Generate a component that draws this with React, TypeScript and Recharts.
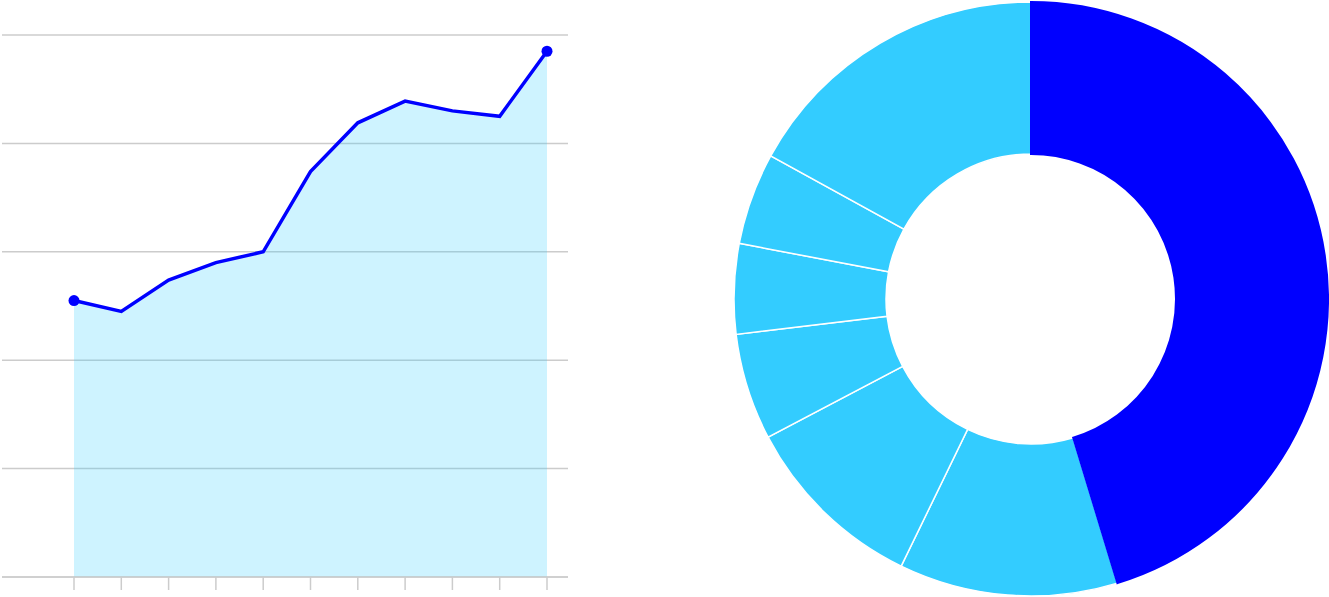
import {
  AreaChart,
  Area,
  XAxis,
  YAxis,
  CartesianGrid,
  PieChart,
  Pie,
  Cell,
} from "recharts";

const periods = ["1", "2", "3", "4", "5", "6", "7", "8", "9", "10", "11"];
const values = [25.5, 24.5, 27.4, 29.0, 30.0, 37.4, 41.9, 43.9, 43.0, 42.5, 48.5];
const yTicks = [0, 10, 20, 30, 40, 50];

const segments = ["A", "B", "C", "D", "E", "F", "G"];
const shares = [45.3, 11.9, 10.1, 5.8, 4.9, 5.0, 17.0];

const BLUE = "#0000ff";
const LIGHT = "#33ccff";

const areaData = periods.map((p, i) => ({ period: p, value: values[i] }));
const pieData = segments.map((s, i) => ({ name: s, share: shares[i] }));

// only the first and the last point get a marker
const EndDot = (props: any) => {
  const { cx, cy, index } = props;
  if (index !== 0 && index !== values.length - 1) return <g key={index} />;
  return <circle key={index} cx={cx} cy={cy} r={5.5} fill={BLUE} />;
};

export default function App() {
  return (
    <div style={{ position: "absolute", left: 0, top: 0, width: 1329, height: 597 }}>
      <div style={{ position: "absolute", left: 0, top: 0 }}>
        <AreaChart
          width={570}
          height={597}
          data={areaData}
          margin={{ top: 35, right: 2, left: 2, bottom: 0 }}
        >
          <CartesianGrid vertical={false} stroke="#cccccc" strokeWidth={1.5} />
          <XAxis
            dataKey="period"
            height={20}
            padding={{ left: 72, right: 21 }}
            stroke="#cccccc"
            strokeWidth={1.5}
            tickSize={13}
            tickFormatter={() => ""}
          />
          <YAxis hide domain={[0, 50]} ticks={yTicks} />
          <Area
            type="linear"
            dataKey="value"
            stroke={BLUE}
            strokeWidth={3.5}
            fill={LIGHT}
            fillOpacity={0.24}
            dot={EndDot}
            activeDot={false}
            isAnimationActive={false}
          />
        </AreaChart>
      </div>
      <div style={{ position: "absolute", left: 733, top: 1 }}>
        <PieChart width={596} height={596} margin={{ top: 0, right: 0, left: 0, bottom: 0 }}>
          <Pie
            data={pieData}
            dataKey="share"
            nameKey="name"
            cx={298}
            cy={298}
            innerRadius={145}
            outerRadius={297}
            startAngle={90}
            endAngle={-270}
            stroke="#ffffff"
            strokeWidth={1.5}
            isAnimationActive={false}
          >
            {pieData.map((d, i) => (
              <Cell key={d.name} fill={i === 0 ? BLUE : LIGHT} />
            ))}
          </Pie>
          {/* blue slice again on top, so no white seam shows at its edges */}
          <Pie
            data={pieData}
            dataKey="share"
            nameKey="name"
            cx={298}
            cy={298}
            innerRadius={145}
            outerRadius={297}
            startAngle={90}
            endAngle={-270}
            isAnimationActive={false}
          >
            {pieData.map((d, i) => (
              <Cell
                key={d.name}
                fill={i === 0 ? BLUE : "none"}
                stroke={i === 0 ? BLUE : "none"}
                strokeWidth={2}
              />
            ))}
          </Pie>
        </PieChart>
      </div>
    </div>
  );
}
